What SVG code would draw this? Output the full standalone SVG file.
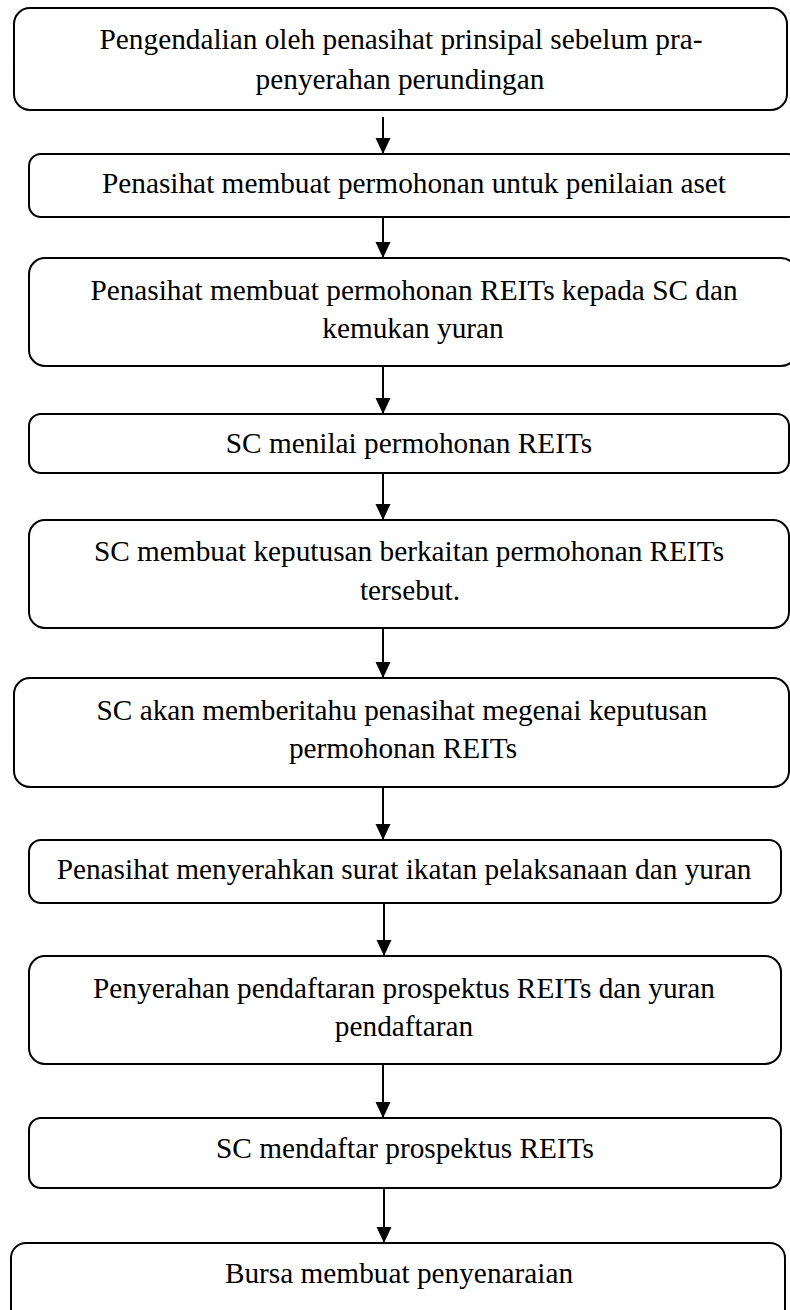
<svg xmlns="http://www.w3.org/2000/svg" width="790" height="1310" viewBox="0 0 790 1310">
<style>
.box{fill:#fff;stroke:#000;stroke-width:2}
.lbl{font-family:'Liberation Serif','Times New Roman',serif;font-size:29.3px;fill:#000;text-anchor:middle}
.conn{stroke:#000;stroke-width:2;fill:none;marker-end:url(#ah)}
</style>
<defs>
<marker id="ah" markerUnits="userSpaceOnUse" markerWidth="17" markerHeight="16" refX="16" refY="7.5" orient="auto" viewBox="0 0 17 16">
<path d="M0,0 L16,7.5 L0,15 z" fill="#000"/>
</marker>
</defs>
<rect width="790" height="1310" fill="#fff"/>
<g id="connectors">
<line class="conn" x1="383" y1="117" x2="383" y2="154"/>
<line class="conn" x1="383" y1="217" x2="383" y2="258"/>
<line class="conn" x1="383" y1="366" x2="383" y2="414"/>
<line class="conn" x1="383" y1="473" x2="383" y2="520"/>
<line class="conn" x1="383" y1="628" x2="383" y2="678"/>
<line class="conn" x1="383" y1="787" x2="383" y2="840"/>
<line class="conn" x1="384" y1="903" x2="384" y2="956"/>
<line class="conn" x1="383" y1="1064" x2="383" y2="1118"/>
<line class="conn" x1="384" y1="1188" x2="384" y2="1243"/>
</g>
<g id="n1">
<rect class="box" x="14" y="8" width="773" height="102" rx="16"/>
<text class="lbl" x="401" y="49">Pengendalian oleh penasihat prinsipal sebelum pra-</text>
<text class="lbl" x="400" y="89">penyerahan perundingan</text>
</g>
<g id="n2">
<rect class="box" x="29" y="154" width="771" height="63" rx="12"/>
<text class="lbl" x="414" y="193">Penasihat membuat permohonan untuk penilaian aset</text>
</g>
<g id="n3">
<rect class="box" x="29" y="258" width="768" height="108" rx="16"/>
<text class="lbl" x="414" y="300">Penasihat membuat permohonan REITs kepada SC dan</text>
<text class="lbl" x="413" y="338">kemukan yuran</text>
</g>
<g id="n4">
<rect class="box" x="29" y="414" width="760" height="59" rx="12"/>
<text class="lbl" x="409" y="453">SC menilai permohonan REITs</text>
</g>
<g id="n5">
<rect class="box" x="29" y="520" width="760" height="108" rx="16"/>
<text class="lbl" x="409" y="561">SC membuat keputusan berkaitan permohonan REITs</text>
<text class="lbl" x="410" y="600">tersebut.</text>
</g>
<g id="n6">
<rect class="box" x="14" y="678" width="775" height="109" rx="16"/>
<text class="lbl" x="402" y="720">SC akan memberitahu penasihat megenai keputusan</text>
<text class="lbl" x="403" y="758">permohonan REITs</text>
</g>
<g id="n7">
<rect class="box" x="29" y="840" width="752" height="63" rx="12"/>
<text class="lbl" x="404" y="879">Penasihat menyerahkan surat ikatan pelaksanaan dan yuran</text>
</g>
<g id="n8">
<rect class="box" x="29" y="956" width="752" height="108" rx="16"/>
<text class="lbl" x="404" y="998">Penyerahan pendaftaran prospektus REITs dan yuran</text>
<text class="lbl" x="404" y="1036">pendaftaran</text>
</g>
<g id="n9">
<rect class="box" x="29" y="1118" width="752" height="70" rx="12"/>
<text class="lbl" x="405" y="1158">SC mendaftar prospektus REITs</text>
</g>
<g id="n10">
<rect class="box" x="11" y="1243" width="774" height="100" rx="15"/>
<text class="lbl" x="399" y="1283">Bursa membuat penyenaraian</text>
</g>
</svg>
